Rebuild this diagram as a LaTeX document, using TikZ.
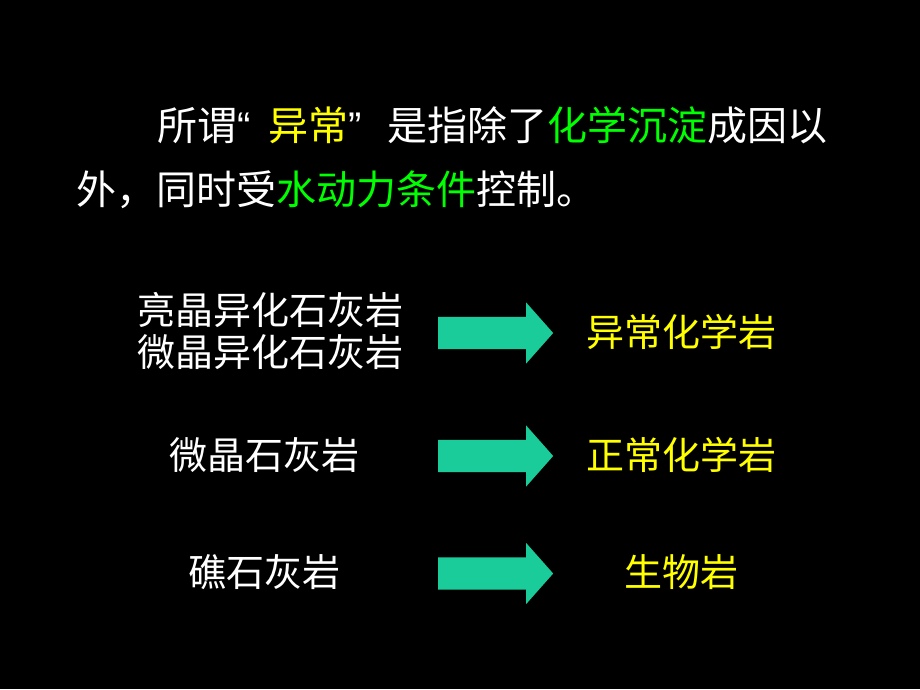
\documentclass[tikz,border=0pt]{standalone}
\usepackage{fontspec}
\usepackage{tikz}
\usetikzlibrary{shapes.arrows,positioning}
\newfontfamily\cjk{Noto Sans CJK SC}
\newfontfamily\latinq{Liberation Sans}
\definecolor{slidebg}{RGB}{0,0,0}
\definecolor{hiyellow}{RGB}{255,255,0}
\definecolor{higreen}{RGB}{0,255,0}
\definecolor{arrowteal}{RGB}{26,204,153}

\tikzset{
  bodytext/.style={text=white, inner sep=0pt, font=\cjk\fontsize{40}{48}\selectfont},
  rocktext/.style={text=white, inner sep=0pt, align=center, font=\cjk\fontsize{38}{44}\selectfont},
  classtext/.style={rocktext, text=hiyellow},
  blockarrow/.style={single arrow, fill=arrowteal, draw=none,
    inner xsep=0pt, inner ysep=16pt, minimum height=115pt,
    single arrow head extend=14.5pt, single arrow tip angle=97}
}

\begin{document}
\begin{tikzpicture}[x=1pt, y=-1pt]
% black slide
\fill[slidebg] (0,0) rectangle (920,689);
\useasboundingbox (0,0) rectangle (920,689);
% definition paragraph
\node[bodytext, anchor=west] (defA) at (157,125)
  {所谓{\latinq “}\hspace{18pt}{\color{hiyellow}异常}{\latinq ”}\hspace{26pt}是指除了{\color{higreen}化学沉淀}成因以};
\node[bodytext, anchor=west] (defB) at (76,190)
  {外，同时受{\color{higreen}水动力条件}控制。};
% rock types and arrows
\node[rocktext] (allo) at (270,331) {亮晶异化石灰岩\\[-2pt]微晶异化石灰岩};
\node[rocktext] (micr) at (264,455) {微晶石灰岩};
\node[rocktext] (reef) at (264,572) {礁石灰岩};
\node[blockarrow] (arrA) at (488.5,333) {};
\node[blockarrow] (arrB) at (488.5,456) {};
\node[blockarrow] (arrC) at (488.5,573.5) {};
\node[classtext] (abnorm) at (681,332) {异常化学岩};
\node[classtext] (norm) at (681,455) {正常化学岩};
\node[classtext] (bio) at (681,572) {生物岩};
\end{tikzpicture}
\end{document}
